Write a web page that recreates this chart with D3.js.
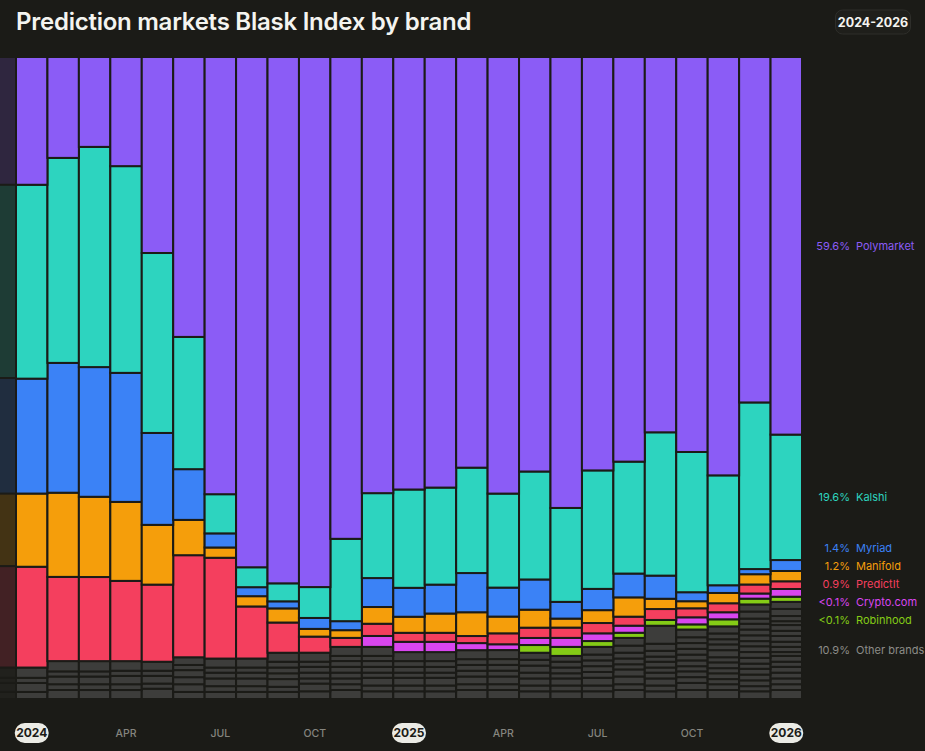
<!DOCTYPE html>
<html>
<head>
<meta charset="utf-8">
<script src="https://cdn.jsdelivr.net/npm/d3@7/dist/d3.min.js"></script>
<style>
  html, body { margin: 0; padding: 0; background: #1b1b17; }
  svg { display: block; font-family: Inter, 'Noto Sans', sans-serif; }
</style>
</head>
<body>
<div id="chart"></div>
<script>
// monthly share of the index (%), first month is the faded lead-in column
const months = [
  '2023-12',
  '2024-01', '2024-02', '2024-03', '2024-04', '2024-05', '2024-06',
  '2024-07', '2024-08', '2024-09', '2024-10', '2024-11', '2024-12',
  '2025-01', '2025-02', '2025-03', '2025-04', '2025-05', '2025-06',
  '2025-07', '2025-08', '2025-09', '2025-10', '2025-11', '2025-12',
  '2026-01',
]

const polymarket = [19.9, 19.9, 15.7, 14.0, 17.0, 30.5, 43.6, 68.1, 79.4, 81.9, 82.4, 74.9, 67.8, 67.3, 67.0, 63.9, 67.8, 64.5, 70.1, 64.2, 62.9, 58.4, 61.4, 65.1, 53.7, 58.7]
const kalshi = [30.1, 30.2, 31.9, 34.3, 32.2, 28.0, 20.6, 6.1, 3.1, 2.8, 4.8, 12.8, 13.2, 15.3, 15.1, 16.4, 14.6, 16.8, 14.6, 18.4, 17.4, 22.3, 21.8, 17.1, 25.9, 19.5]
const myriad = [18.0, 17.9, 20.2, 20.2, 20.1, 14.3, 7.9, 2.2, 1.4, 1.1, 1.7, 1.4, 4.5, 4.5, 4.5, 6.1, 4.5, 4.7, 2.6, 3.3, 3.7, 3.6, 1.4, 1.2, 0.8, 1.7]
const manifold = [11.3, 11.4, 13.1, 12.5, 12.3, 9.3, 5.5, 1.6, 1.6, 2.2, 1.2, 1.2, 2.6, 2.5, 3.0, 3.7, 2.6, 2.8, 1.4, 2.0, 3.0, 1.6, 1.1, 1.6, 1.6, 1.6]
const predictit = [15.8, 15.7, 13.1, 13.1, 12.5, 12.0, 15.9, 15.7, 8.1, 4.7, 2.5, 1.4, 1.9, 1.4, 1.4, 1.1, 1.7, 1.6, 1.6, 1.6, 1.4, 1.7, 1.4, 1.4, 1.4, 1.2]
const cryptoCom = [0, 0, 0, 0, 0, 0, 0, 0, 0, 0, 0, 0, 1.7, 1.6, 1.6, 1.1, 0.9, 1.1, 1.4, 1.2, 1.1, 0, 1.1, 1.1, 0.8, 1.2]
const robinhood = [0, 0, 0, 0, 0, 0, 0, 0, 0, 0, 0, 0, 0, 0, 0, 0, 0, 1.2, 1.4, 0.9, 0.8, 0.9, 0.8, 1.1, 0.9, 0.8]

// the smaller brands lumped as grey blocks, listed top to bottom per month
const otherBrands = [
  [1.6, 0.8, 1.4, 1.1],
  [1.6, 0.8, 1.4, 1.1],
  [1.6, 0.8, 1.2, 0.9, 1.4],
  [1.6, 0.8, 1.2, 0.9, 1.4],
  [1.5, 0.8, 1.3, 0.9, 1.4],
  [1.4, 0.8, 1.2, 0.8, 1.6],
  [1.2, 0.8, 1.1, 1.1, 1.2, 1.1],
  [1.4, 0.8, 0.9, 1.2, 0.9, 1.1],
  [1.4, 0.8, 0.9, 1.2, 0.9, 1.1],
  [1.4, 0.9, 0.9, 0.9, 1.2, 0.8, 1.1],
  [1.4, 0.8, 0.9, 0.9, 0.8, 1.2, 1.2],
  [1.4, 0.8, 0.9, 0.9, 0.9, 0.9, 0.9, 1.4],
  [1.4, 0.8, 0.9, 0.9, 0.8, 1.2, 0.9, 1.2],
  [1.4, 0.9, 0.9, 0.8, 1.2, 0.9, 1.2],
  [1.4, 0.9, 0.9, 0.8, 1.2, 0.9, 1.2],
  [1.4, 0.9, 0.9, 0.9, 1.2, 0.9, 1.4],
  [1.4, 0.9, 0.9, 0.9, 1.2, 0.9, 1.4],
  [1.1, 0.9, 1.1, 0.9, 1.1, 0.9, 1.2],
  [0.9, 0.9, 0.9, 0.8, 1.1, 0.9, 1.2],
  [1.2, 0.9, 0.9, 0.9, 0.9, 1.2, 0.9, 1.2],
  [1.2, 1.1, 0.9, 0.9, 0.8, 1.1, 1.2, 0.9, 1.4],
  [2.8, 1.1, 0.9, 0.8, 0.9, 0.8, 0.9, 1.1, 0.9, 1.2],
  [1.2, 0.9, 0.9, 0.9, 0.9, 0.9, 0.8, 0.9, 0.9, 1.1, 1.4],
  [1.1, 0.9, 0.8, 0.9, 1.1, 0.8, 0.9, 0.8, 0.9, 0.8, 0.9, 1.4],
  [1.1, 1.1, 0.8, 0.9, 0.9, 0.9, 0.8, 0.9, 0.9, 0.9, 0.8, 0.9, 0.9, 0.9, 0.8, 1.2],
  [1.1, 1.1, 0.8, 0.6, 0.9, 0.8, 0.9, 0.8, 0.8, 0.6, 0.9, 0.8, 0.9, 0.9, 0.9, 0.9, 1.4],
]

const brands = ['Polymarket', 'Kalshi', 'Myriad', 'Manifold', 'PredictIt', 'Crypto.com', 'Robinhood']
const brandValues = [polymarket, kalshi, myriad, manifold, predictit, cryptoCom, robinhood]
const legendShares = ['59.6%', '19.6%', '1.4%', '1.2%', '0.9%', '<0.1%', '<0.1%']
const otherLabel = 'Other brands'
const otherShare = '10.9%'

const tickMonths = ['2024-01', '2024-04', '2024-07', '2024-10', '2025-01', '2025-04', '2025-07', '2025-10', '2026-01']
const tickLabels = ['2024', 'APR', 'JUL', 'OCT', '2025', 'APR', 'JUL', 'OCT', '2026']

const title = 'Prediction markets Blask Index by brand'
const rangeLabel = '2024-2026'

const colors = {
    Polymarket: '#8b5cf6',
    Kalshi: '#2dd4bf',
    Myriad: '#3b82f6',
    Manifold: '#f59e0b',
    PredictIt: '#f43f5e',
    'Crypto.com': '#d946ef',
    Robinhood: '#84cc16',
    other: '#3d3d3b',
    otherText: '#8c8c88',
}

const width = 925
const height = 751
const bg = '#1b1b17'
const plot = { left: 16, right: 802, top: 57, bottom: 699 }

// build a table the stack generator can read; grey blocks go bottom-up first
const maxOther = d3.max(otherBrands, d => d.length)
const otherKeys = d3.range(maxOther).map(i => `o${i}`)
const table = months.map((month, m) => {
    const row = { month }
    const list = otherBrands[m]
    otherKeys.forEach((k, j) => {
        row[k] = j < list.length ? list[list.length - 1 - j] : 0
    })
    brands.forEach((b, i) => { row[b] = brandValues[i][m] })
    return row
})
const stackKeys = otherKeys.concat(brands.slice().reverse())
const series = d3.stack()
    .keys(stackKeys)
    .offset(d3.stackOffsetExpand)(table)

const step = (plot.right - plot.left) / (months.length - 1)
const x = d3.scaleBand()
    .domain(months)
    .range([plot.left - step, plot.right])
    .paddingInner(0)
const y = d3.scaleLinear()
    .domain([0, 1])
    .range([plot.bottom, plot.top])

const svg = d3.select('#chart')
    .append('svg')
    .attr('width', width)
    .attr('height', height)

svg.append('rect')
    .attr('width', width)
    .attr('height', height)
    .attr('fill', bg)

svg.append('text')
    .attr('x', 16)
    .attr('y', 30)
    .attr('fill', '#f4f4f0')
    .attr('font-size', 24)
    .attr('font-weight', 600)
    .attr('letter-spacing', -0.25)
    .text(title)

// range pill, top right
const pill = svg.append('g').attr('transform', 'translate(873,22)')
pill.append('rect')
    .attr('x', -37.5)
    .attr('y', -12)
    .attr('width', 75)
    .attr('height', 24)
    .attr('rx', 7)
    .attr('fill', '#1f1f1b')
    .attr('stroke', '#2e2e2a')
pill.append('text')
    .attr('text-anchor', 'middle')
    .attr('dy', '0.36em')
    .attr('fill', '#f4f4f0')
    .attr('font-size', 12.5)
    .attr('font-weight', 700)
    .text(rangeLabel)

svg.append('clipPath')
    .attr('id', 'plot-clip')
    .append('rect')
    .attr('x', 0)
    .attr('y', plot.top - 2)
    .attr('width', plot.right + 1)
    .attr('height', plot.bottom - plot.top + 2)

const bars = svg.append('g').attr('clip-path', 'url(#plot-clip)')

series.forEach(s => {
    const isOther = s.key.startsWith('o')
    bars.append('g')
        .selectAll('rect')
        .data(s.filter(d => d[1] - d[0] > 0))
        .join('rect')
        .attr('x', d => x(d.data.month))
        .attr('width', x.bandwidth())
        .attr('y', d => y(d[1]))
        .attr('height', d => y(d[0]) - y(d[1]))
        .attr('fill', isOther ? colors.other : colors[s.key])
        .attr('opacity', d => d.data.month === months[0] ? 0.18 : 1)
        .attr('stroke', bg)
        .attr('stroke-width', 2)
})

// legend labels beside the last column, pushed apart when they collide
const lastIndex = months.length - 1
const labelItems = brands.map((b, i) => {
    const d = series.find(s => s.key === b)[lastIndex]
    return { name: b, share: legendShares[i], color: colors[b], mid: y((d[0] + d[1]) / 2) }
})
const otherTop = series.find(s => s.key === otherKeys[maxOther - 1])[lastIndex][1]
labelItems.push({ name: otherLabel, share: otherShare, color: colors.otherText, mid: y(otherTop / 2) })

function spreadLabels(items, gap) {
    let groups = items.slice()
        .sort((a, b) => a.mid - b.mid)
        .map(d => ({ members: [d], center: d.mid }))
    let merged = true
    while (merged) {
        merged = false
        for (let i = 0; i < groups.length - 1; i++) {
            const a = groups[i]
            const b = groups[i + 1]
            if (a.center + a.members.length * gap / 2 > b.center - b.members.length * gap / 2) {
                const members = a.members.concat(b.members)
                groups.splice(i, 2, { members, center: d3.mean(members, m => m.mid) })
                merged = true
                break
            }
        }
    }
    groups.forEach(g => g.members.forEach((m, i) => {
        m.y = g.center - (g.members.length - 1) * gap / 2 + i * gap
    }))
}
spreadLabels(labelItems, 18)

const legend = svg.append('g')
    .selectAll('g')
    .data(labelItems)
    .join('g')
    .attr('transform', d => `translate(0,${d.y})`)
    .attr('font-size', 11)
legend.append('text')
    .attr('x', 850)
    .attr('dy', '0.35em')
    .attr('text-anchor', 'end')
    .attr('fill', d => d.color)
    .text(d => d.share)
legend.append('text')
    .attr('x', 856)
    .attr('dy', '0.35em')
    .attr('fill', d => d.color)
    .text(d => d.name)

// month ticks, years drawn as pills
const ticks = svg.append('g')
    .selectAll('g')
    .data(tickMonths.map((m, i) => ({ month: m, label: tickLabels[i], year: /^\d+$/.test(tickLabels[i]) })))
    .join('g')
    .attr('transform', d => `translate(${x(d.month) + x.bandwidth() / 2},733)`)

ticks.filter(d => d.year)
    .append('rect')
    .attr('x', -17)
    .attr('y', -10)
    .attr('width', 34)
    .attr('height', 20)
    .attr('rx', 10)
    .attr('fill', '#ebebe5')

ticks.append('text')
    .attr('text-anchor', 'middle')
    .attr('dy', '0.36em')
    .attr('font-size', d => d.year ? 12 : 10.5)
    .attr('font-weight', d => d.year ? 700 : 500)
    .attr('fill', d => d.year ? '#1b1b17' : '#85857f')
    .text(d => d.label)
</script>
</body>
</html>
